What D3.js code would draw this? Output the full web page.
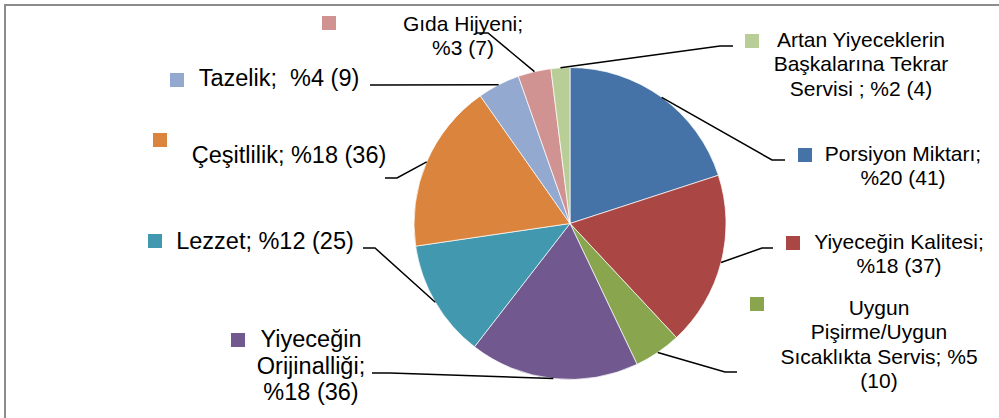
<!DOCTYPE html>
<html>
<head>
<meta charset="utf-8">
<script src="https://cdn.jsdelivr.net/npm/d3@7"></script>
<style>
  html, body { margin: 0; padding: 0; background: #fff; }
  svg { display: block; }
  text { font-family: "Liberation Sans", Arial, sans-serif; fill: #000; }
</style>
</head>
<body>
<div id="chart"></div>
<script>
// survey answers, clockwise from 12 o'clock
const categories = [
    "Porsiyon Miktarı",
    "Yiyeceğin Kalitesi",
    "Uygun Pişirme/Uygun Sıcaklıkta Servis",
    "Yiyeceğin Orijinalliği",
    "Lezzet",
    "Çeşitlilik",
    "Tazelik",
    "Gıda Hijyeni",
    "Artan Yiyeceklerin Başkalarına Tekrar Servisi"
];
const counts = [41, 37, 10, 36, 25, 36, 9, 7, 4];
const percents = [20, 18, 5, 18, 12, 18, 4, 3, 2];
const colors = ["#4572A7", "#AA4643", "#89A54E", "#71588F", "#4198AF",
                "#DB843D", "#93A9CF", "#D19392", "#B9CD96"];

// label text, wrapped the way the original does it
const labelLines = [
    ["Porsiyon Miktarı;", "%20 (41)"],
    ["Yiyeceğin Kalitesi;", "%18 (37)"],
    ["Uygun", "Pişirme/Uygun", "Sıcaklıkta Servis; %5", "(10)"],
    ["Yiyeceğin", "Orijinalliği;", "%18 (36)"],
    ["Lezzet; %12 (25)"],
    ["Çeşitlilik; %18 (36)"],
    ["Tazelik;  %4 (9)"],
    ["Gıda Hijyeni;", "%3 (7)"],
    ["Artan Yiyeceklerin", "Başkalarına Tekrar", "Servisi ; %2 (4)"]
];

// label placement: text centre x, first baseline y, legend key, leader elbow + end
const labelLayout = [
    { tx: 903, ty: 161, kx: 798, ky: 148, elbow: [772, 160], end: [785, 160] },
    { tx: 899, ty: 249, kx: 786, ky: 236, elbow: [762, 248], end: [773, 248] },
    { tx: 879, ty: 315, kx: 750, ky: 297, elbow: [725, 372], end: [737, 372] },
    { tx: 311, ty: 347, kx: 231, ky: 333, elbow: [390, 373], end: [372, 373] },
    { tx: 265, ty: 249, kx: 148, ky: 234, elbow: [375, 248], end: [363, 248] },
    { tx: 289, ty: 163, kx: 153, ky: 133, elbow: [397, 178], end: [385, 178] },
    { tx: 279, ty: 86,  kx: 170, ky: 73,  elbow: [382, 85],  end: [370, 85] },
    { tx: 463, ty: 31,  kx: 322, ky: 16,  elbow: [488, 33],  end: [477, 33] },
    { tx: 861, ty: 47,  kx: 745, ky: 34,  elbow: [720, 46],  end: [733, 46] }
];

const width = 999, height = 418;
const cx = 570, cy = 223.5, radius = 156;

const svg = d3.select("#chart").append("svg")
    .attr("width", width)
    .attr("height", height);

// chart area frame, only left and top edges are inside the picture
svg.append("rect")
    .attr("x", 5).attr("y", 5)
    .attr("width", width + 20).attr("height", height + 20)
    .attr("fill", "none")
    .attr("stroke", "#8c8c8c")
    .attr("stroke-width", 2);

const pie = d3.pie().sort(null).value(d => d);
const arcs = pie(counts);
const arc = d3.arc().innerRadius(0).outerRadius(radius);

const g = svg.append("g").attr("transform", `translate(${cx},${cy})`);
g.selectAll("path.slice")
    .data(arcs)
    .enter()
    .append("path")
    .attr("class", "slice")
    .attr("d", arc)
    .attr("fill", (d, i) => colors[i])
    .attr("stroke", "#fff")
    .attr("stroke-width", 0.7);

// leader lines start on the rim at each slice's mid angle
function rimPoint(d) {
    const a = (d.startAngle + d.endAngle) / 2;
    return [cx + radius * Math.sin(a), cy - radius * Math.cos(a)];
}

svg.selectAll("path.leader")
    .data(arcs)
    .enter()
    .append("path")
    .attr("class", "leader")
    .attr("d", function (d, i) {
        const L = labelLayout[i];
        return d3.line()([rimPoint(d), L.elbow, L.end]);
    })
    .attr("fill", "none")
    .attr("stroke", "#000")
    .attr("stroke-width", 1.5);

// legend keys
svg.selectAll("rect.key")
    .data(arcs)
    .enter()
    .append("rect")
    .attr("class", "key")
    .attr("x", (d, i) => labelLayout[i].kx)
    .attr("y", (d, i) => labelLayout[i].ky)
    .attr("width", 14)
    .attr("height", 14)
    .attr("fill", (d, i) => colors[i]);

// labels on the left half are set a bit larger in the original
const labels = svg.selectAll("text.lbl")
    .data(arcs)
    .enter()
    .append("text")
    .attr("class", "lbl")
    .attr("text-anchor", "middle")
    .style("white-space", "pre")
    .style("font-size", (d, i) => labelLayout[i].tx < cx - 150 ? "23.5px" : "21px");

labels.each(function (d, i) {
    const L = labelLayout[i];
    const step = L.tx < cx - 150 ? 26.5 : 24.3;
    d3.select(this).selectAll("tspan")
        .data(labelLines[i])
        .enter()
        .append("tspan")
        .attr("x", L.tx)
        .attr("y", (t, j) => L.ty + j * step)
        .text(t => t);
});
</script>
</body>
</html>
